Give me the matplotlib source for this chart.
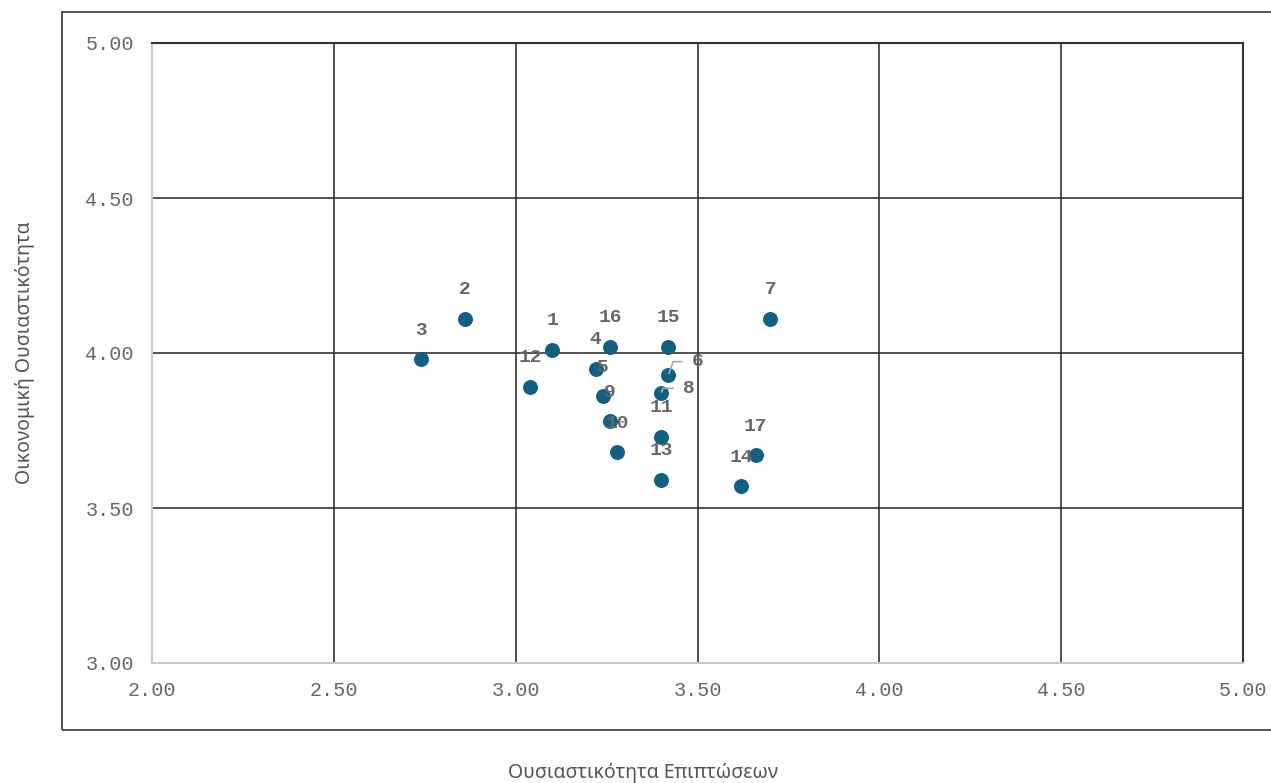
import matplotlib.pyplot as plt
from matplotlib.patches import Rectangle

# data
labels = ["1", "2", "3", "4", "5", "6", "7", "8", "9", "10",
          "11", "12", "13", "14", "15", "16", "17"]
impact = [3.10, 2.86, 2.74, 3.22, 3.24, 3.42, 3.70, 3.40, 3.26, 3.28,
          3.40, 3.04, 3.40, 3.62, 3.42, 3.26, 3.66]
financial = [4.01, 4.11, 3.98, 3.95, 3.86, 3.93, 4.11, 3.87, 3.78, 3.68,
             3.73, 3.89, 3.59, 3.57, 4.02, 4.02, 3.67]
ticks = [2.0, 2.5, 3.0, 3.5, 4.0, 4.5, 5.0]
yticks = [3.0, 3.5, 4.0, 4.5, 5.0]

fig = plt.figure(figsize=(12.71, 7.83), dpi=100)
ax = fig.add_axes([152 / 1271, 1 - 663 / 783, 1091 / 1271, 620 / 783])

# outer frame
fig.patches.append(Rectangle((62 / 1271, 1 - 730 / 783), 1.2, 718 / 783,
                             transform=fig.transFigure, fill=False,
                             edgecolor="#333333", linewidth=1.2))

ax.set_xlim(2, 5)
ax.set_ylim(3, 5)
for v in ticks[1:-1]:
    ax.axvline(v, color="#333333", lw=1.2, zorder=1)
for v in yticks[1:-1]:
    ax.axhline(v, color="#333333", lw=1.2, zorder=1)

ax.spines["left"].set_color("#c8c8c8")
ax.spines["bottom"].set_color("#c8c8c8")
ax.spines["top"].set_color("#333333")
ax.spines["right"].set_color("#333333")
for s in ax.spines.values():
    s.set_linewidth(1.5)

ax.set_xticks(ticks)
ax.set_yticks(yticks)
ax.set_xticklabels([f"{t:.2f}" for t in ticks])
ax.set_yticklabels([f"{t:.2f}" for t in yticks])
ax.tick_params(length=0, pad=13, labelsize=14.5, labelcolor="#666666")
for t in ax.get_xticklabels() + ax.get_yticklabels():
    t.set_family("Liberation Mono")

ax.scatter(impact, financial, s=95, color="#135f82", zorder=3)

offsets = {"6": (21, 9.4), "8": (20, 3.6)}
for lab, x, y in zip(labels, impact, financial):
    if lab in offsets:
        ax.annotate(lab, (x, y), xytext=offsets[lab], textcoords="offset points",
                    ha="center", va="center", fontsize=14, fontweight="bold",
                    family="Liberation Mono", color="#666666", zorder=4,
                    arrowprops=dict(arrowstyle="-", color="#aaaaaa", lw=1.2,
                                    shrinkA=5, shrinkB=1,
                                    connectionstyle="angle,angleA=0,angleB=70,rad=0"))
    else:
        ax.annotate(lab, (x, y), xytext=(0, 21), textcoords="offset points",
                    ha="center", va="center", fontsize=14, fontweight="bold",
                    family="Liberation Mono", color="#666666", zorder=4)

fig.text(643 / 1271, 1 - 773 / 783, "Ουσιαστικότητα Επιπτώσεων", ha="center",
         va="center", fontsize=14, family="Noto Sans", color="#555555")
fig.text(25 / 1271, 1 - 353 / 783, "Οικονομική Ουσιαστικότητα", ha="center",
         va="center", rotation=90, fontsize=14, family="Noto Sans", color="#555555")

fig.savefig("out.png", dpi=100)
